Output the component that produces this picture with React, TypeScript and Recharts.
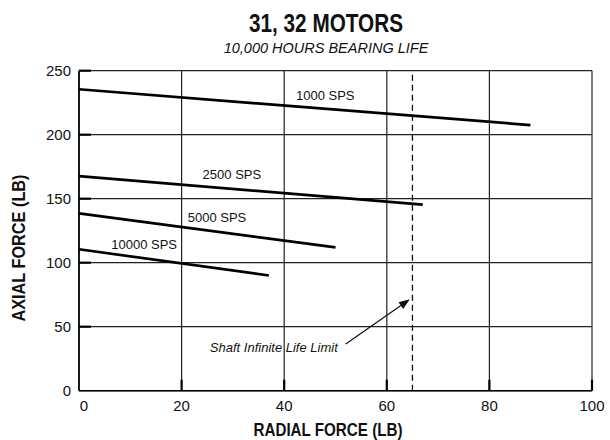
import { LineChart, Line, XAxis, YAxis, CartesianGrid, ReferenceLine, ReferenceDot } from 'recharts';

const FONT = "'Liberation Sans', Arial, Helvetica, sans-serif";

// axes
const radialTicks = [0, 20, 40, 60, 80, 100];
const axialTicks = [0, 50, 100, 150, 200, 250];

// bearing-life curves (radial lb -> axial lb), straight lines
const sps1000 = [
  { radial: 0, axial: 235.5 },
  { radial: 88, axial: 207.5 },
];
const sps2500 = [
  { radial: 0, axial: 167.7 },
  { radial: 67, axial: 145.3 },
];
const sps5000 = [
  { radial: 0, axial: 138.6 },
  { radial: 50, axial: 112 },
];
const sps10000 = [
  { radial: 0, axial: 110.5 },
  { radial: 37, axial: 90 },
];

const seriesData = [sps1000, sps2500, sps5000, sps10000];
const seriesNames = ['1000 SPS', '2500 SPS', '5000 SPS', '10000 SPS'];
const nameAnchors = [
  { radial: 48, axial: 231 },
  { radial: 29.8, axial: 169.3 },
  { radial: 26.9, axial: 135.7 },
  { radial: 12.7, axial: 114.6 },
];

const shaftLimit = 65;
const arrowFrom = { radial: 52, axial: 36.5 };
const arrowTo = { radial: 64.5, axial: 71.4 };

const YTick = (props: any) => {
  const { x, y, payload } = props;
  return (
    <g>
      {payload.value > 0 && <line x1={x} y1={y} x2={x + 12} y2={y} stroke="#000" strokeWidth={2.2} />}
      <text x={x - 8} y={y} dy={5} textAnchor="end" fontSize={15} fontFamily={FONT} fill="#111">
        {payload.value}
      </text>
    </g>
  );
};

const XTick = (props: any) => {
  const { x, y, payload } = props;
  return (
    <g>
      {payload.value > 0 && <line x1={x} y1={y} x2={x} y2={y - 11} stroke="#000" strokeWidth={2.2} />}
      <text x={payload.value === 0 ? x + 5 : x} y={y + 20} textAnchor="middle" fontSize={15} fontFamily={FONT} fill="#111">
        {payload.value}
      </text>
    </g>
  );
};

const ArrowShape = (props: any) => {
  const { x1, y1, x2, y2 } = props;
  const ang = Math.atan2(y2 - y1, x2 - x1);
  const len = 11;
  const half = 4;
  const bx = x2 - len * Math.cos(ang);
  const by = y2 - len * Math.sin(ang);
  const p1 = `${bx + half * Math.sin(ang)},${by - half * Math.cos(ang)}`;
  const p2 = `${bx - half * Math.sin(ang)},${by + half * Math.cos(ang)}`;
  return (
    <g>
      <line x1={x1} y1={y1} x2={bx} y2={by} stroke="#111" strokeWidth={1.2} />
      <polygon points={`${x2},${y2} ${p1} ${p2}`} fill="#111" />
      <text x={x1 - 8} y={y1 + 8} textAnchor="end" fontSize={13} fontStyle="italic" fontFamily={FONT} fill="#111">
        Shaft Infinite Life Limit
      </text>
    </g>
  );
};

export default function App() {
  return (
    <div style={{ position: 'absolute', left: 0, top: 0, width: 610, height: 440, background: '#fff' }}>
      <LineChart width={610} height={440} margin={{ top: 70.7, right: 18, bottom: 24.3, left: 0 }}>
        <CartesianGrid stroke="#222" strokeWidth={1.2} />
        <XAxis
          type="number"
          dataKey="radial"
          domain={[0, 100]}
          ticks={radialTicks}
          height={25}
          tickSize={0}
          tickMargin={0}
          tickLine={false}
          axisLine={{ stroke: '#000', strokeWidth: 1.6 }}
          tick={<XTick />}
        />
        <YAxis
          type="number"
          dataKey="axial"
          domain={[0, 250]}
          ticks={axialTicks}
          width={79}
          tickSize={0}
          tickMargin={0}
          tickLine={false}
          axisLine={{ stroke: '#000', strokeWidth: 1.6 }}
          tick={<YTick />}
        />
        <ReferenceLine x={shaftLimit} stroke="#111" strokeWidth={1.3} strokeDasharray="6 4" />
        {seriesData.map((d, i) => (
          <Line
            key={seriesNames[i]}
            data={d}
            dataKey="axial"
            type="linear"
            stroke="#000"
            strokeWidth={2.7}
            dot={false}
            activeDot={false}
            isAnimationActive={false}
          />
        ))}
        {nameAnchors.map((p, i) => (
          <ReferenceDot
            key={seriesNames[i]}
            x={p.radial}
            y={p.axial}
            r={0}
            stroke="none"
            fill="none"
            label={{ value: seriesNames[i], position: 'center', fontSize: 13, fontFamily: FONT, fill: '#111' }}
          />
        ))}
        <ReferenceLine
          segment={[
            { x: arrowFrom.radial, y: arrowFrom.axial },
            { x: arrowTo.radial, y: arrowTo.axial },
          ]}
          shape={<ArrowShape />}
        />
      </LineChart>
      <svg width={610} height={440} style={{ position: 'absolute', left: 0, top: 0, pointerEvents: 'none' }}>
        <text
          x={326}
          y={32}
          textAnchor="middle"
          fontSize={25}
          fontWeight="bold"
          fontFamily={FONT}
          fill="#111"
          textLength={154}
          lengthAdjust="spacingAndGlyphs"
        >
          31, 32 MOTORS
        </text>
        <text x={326} y={53} textAnchor="middle" fontSize={14.5} fontStyle="italic" fontFamily={FONT} fill="#111">
          10,000 HOURS BEARING LIFE
        </text>
        <text
          x={328}
          y={435.5}
          textAnchor="middle"
          fontSize={17.5}
          fontWeight="bold"
          fontFamily={FONT}
          fill="#111"
          textLength={149}
          lengthAdjust="spacingAndGlyphs"
        >
          RADIAL FORCE (LB)
        </text>
        <text
          x={25}
          y={248}
          transform="rotate(-90 25 248)"
          textAnchor="middle"
          fontSize={17.5}
          fontWeight="bold"
          fontFamily={FONT}
          fill="#111"
          textLength={147}
          lengthAdjust="spacingAndGlyphs"
        >
          AXIAL FORCE (LB)
        </text>
      </svg>
    </div>
  );
}
